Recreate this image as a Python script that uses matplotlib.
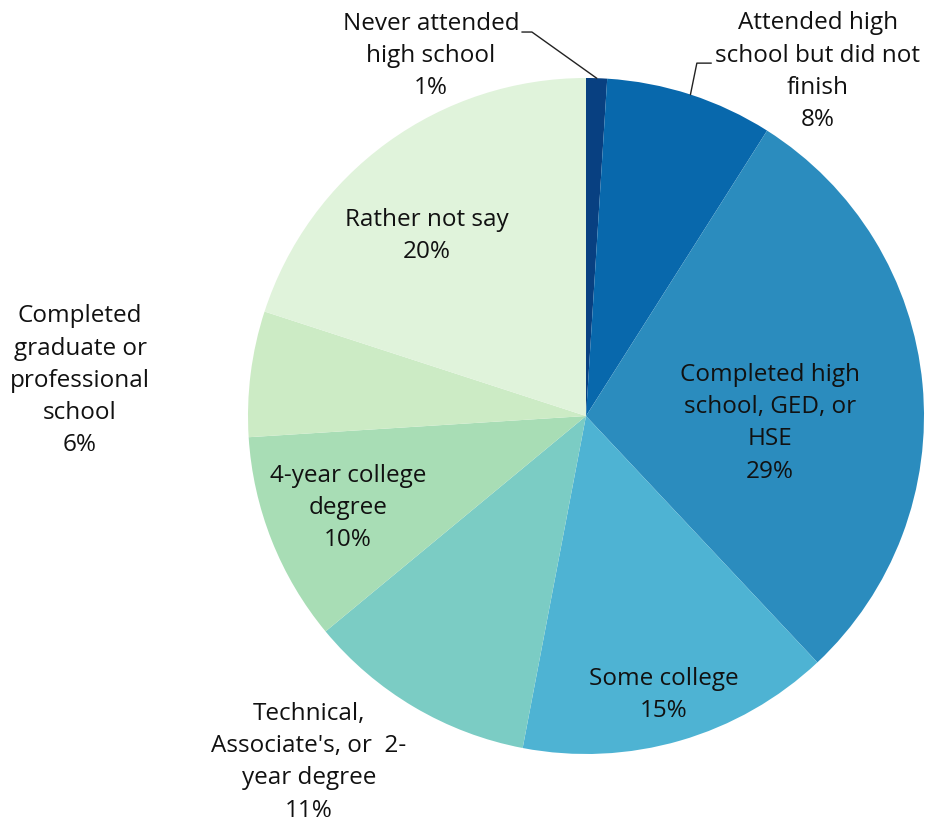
import numpy as np
import matplotlib
matplotlib.use("Agg")
import matplotlib.pyplot as plt

plt.rcParams["font.family"] = ["Open Sans", "DejaVu Sans"]

categories = [
    "Never attended\nhigh school",
    "Attended high\nschool but did not\nfinish",
    "Completed high\nschool, GED, or\nHSE",
    "Some college",
    "Technical,\nAssociate's, or  2-\nyear degree",
    "4-year college\ndegree",
    "Completed\ngraduate or\nprofessional\nschool",
    "Rather not say",
]
shares = [1, 8, 29, 15, 11, 10, 6, 20]
colors = ["#084081", "#0868ac", "#2b8cbe", "#4eb3d3",
          "#7bccc4", "#a8ddb5", "#ccebc5", "#e0f3db"]

# label centres in units of the pie radius
label_xy = [(-0.459, 1.065), (0.686, 1.018), (0.544, -0.021), (0.231, -0.825),
            (-0.820, -1.024), (-0.704, -0.272), (-1.497, 0.104), (-0.470, 0.533)]

W, H = 925, 823
cx, cy, r = 586, 416, 338
fig = plt.figure(figsize=(W / 100, H / 100), dpi=100)
ax = fig.add_axes([(cx - r) / W, (H - cy - r) / H, 2 * r / W, 2 * r / H])

wedges, _ = ax.pie(shares, colors=colors, startangle=90, counterclock=False,
                   radius=1, wedgeprops=dict(linewidth=0))
ax.set_xlim(-1, 1)
ax.set_ylim(-1, 1)
ax.set_aspect("auto")
ax.axis("off")

for name, val, (x, y) in zip(categories, shares, label_xy):
    ax.text(x, y, f"{name}\n{val}%", ha="center", va="center", fontsize=17.5,
            linespacing=1.46, color="#111111", clip_on=False)

# leader lines for the two small slices at the top
def edge_point(w):
    ang = np.deg2rad((w.theta1 + w.theta2) / 2)
    return np.cos(ang), np.sin(ang)

ex, ey = edge_point(wedges[0])
ax.plot([-0.189, -0.160, ex], [1.136, 1.136, ey], color="#222222", lw=1, clip_on=False)
ex, ey = edge_point(wedges[1])
ax.plot([0.370, 0.328, ex], [1.044, 1.044, ey], color="#222222", lw=1, clip_on=False)

fig.savefig("out.png", dpi=100)
